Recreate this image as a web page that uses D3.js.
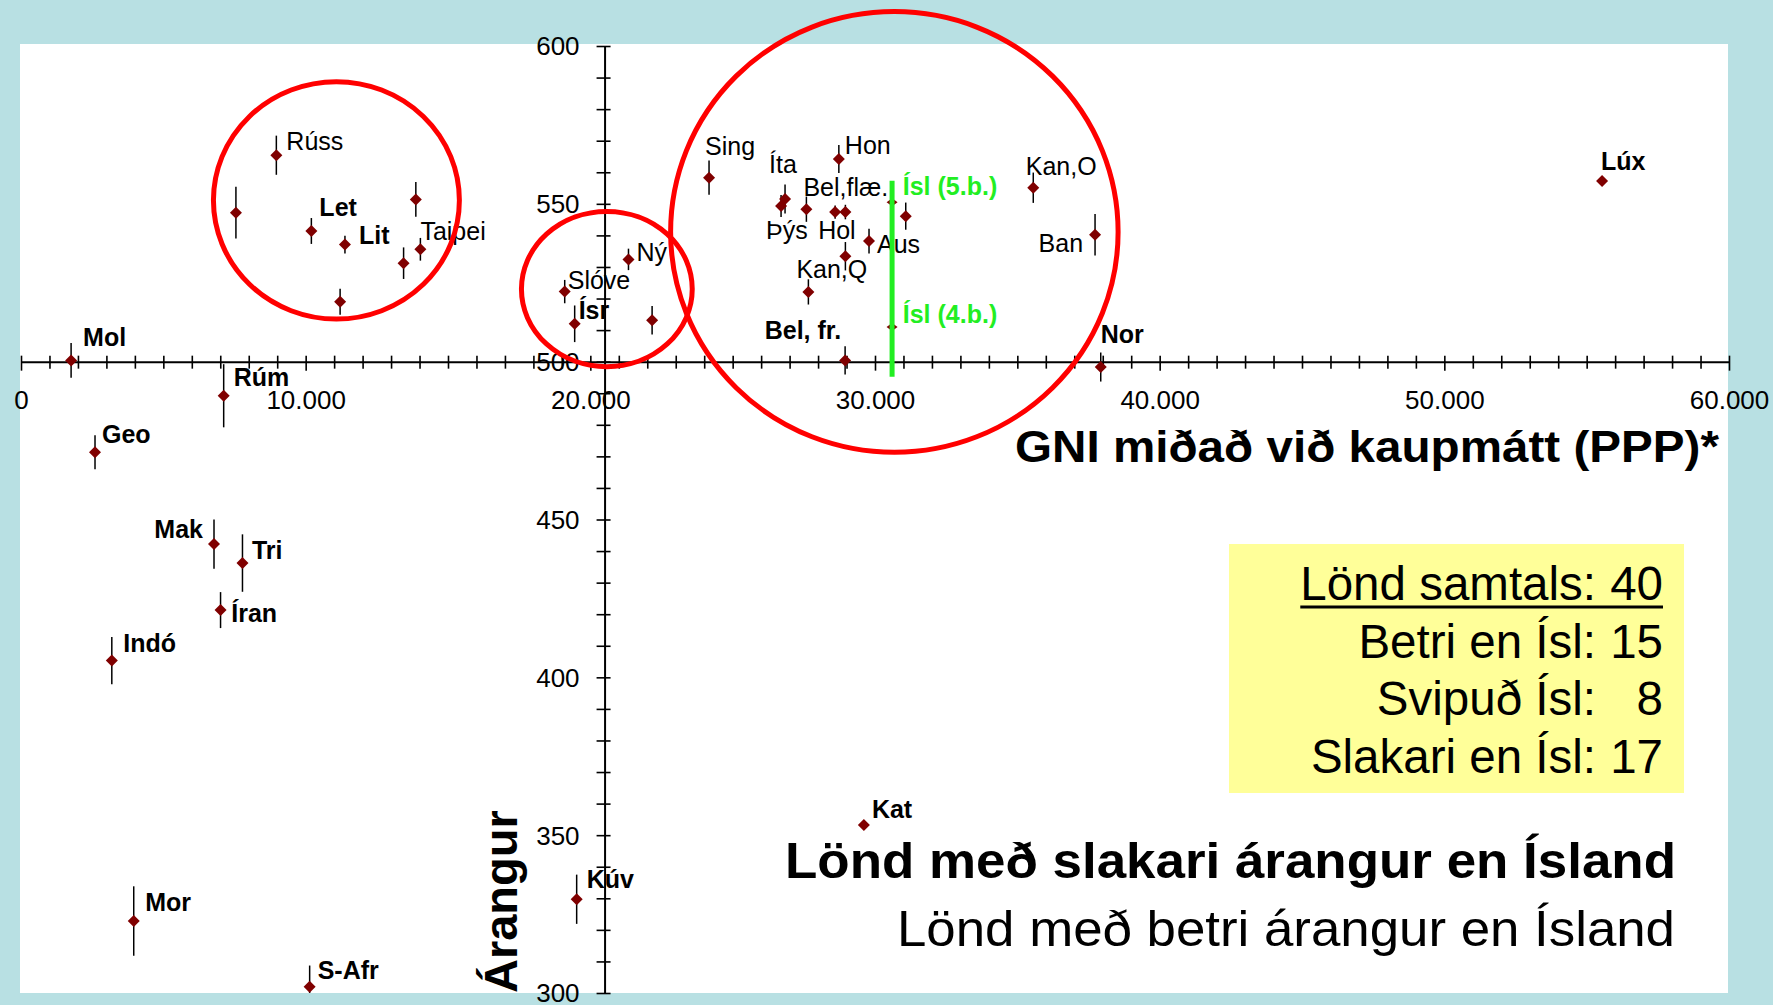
<!DOCTYPE html>
<html>
<head>
<meta charset="utf-8">
<script src="https://cdnjs.cloudflare.com/ajax/libs/d3/7.8.5/d3.min.js"></script>
<style>
  body { margin: 0; background: #b8e0e3; }
  svg { display: block; font-family: "Liberation Sans", Arial, sans-serif; }
</style>
</head>
<body>
<script>
// data: land, GNI (PPP), árangur, skekkja (+/-), hópur (s = slakari en Ísland)
var labels = ["Rúss", "", "Let", "Lit", "", "", "", "Taipei",
  "Mol", "Rúm", "Geo", "Mak", "Tri", "Íran", "Indó", "Mor", "S-Afr", "Kúv", "Kat",
  "Slóve", "Ísr", "Ný", "",
  "Sing", "Íta", "Þýs", "Bel,flæ.", "Hol", "", "Hon", "", "Aus", "", "Kan,Q",
  "Bel, fr.", "Kan,O", "Ban", "Nor", "Lúx"];
var gni = [8970, 7550, 10200, 11380, 11210, 13440, 13870, 14030,
  1760, 7120, 2600, 6780, 7780, 7010, 3190, 3960, 10140, 19520, 29610,
  19100, 19450, 21340, 22170,
  24170, 26840, 26700, 27590, 28600, 28960, 28730, 31080, 29790, 28960, 27660,
  28950, 35560, 37730, 37930, 55540];
var score = [565.4, 547.2, 541.4, 537.1, 519.0, 531.2, 551.4, 535.6,
  500.4, 489.2, 471.3, 442.2, 436.2, 421.3, 405.3, 322.8, 302.0, 329.7, 353.2,
  522.2, 512.0, 532.4, 513.1,
  558.3, 551.5, 549.3, 548.3, 547.4, 547.4, 564.2, 546.1, 538.2, 533.4, 522.1,
  500.4, 555.1, 540.2, 498.3, 557.2];
var err = [6.2, 8.2, 4.1, 2.8, 4.1, 5.0, 5.5, 3.6,
  5.5, 10, 5.4, 7.8, 9.1, 5.7, 7.5, 11, 6.7, 7.8, 0.5,
  3.7, 5.8, 3.4, 4.5,
  5.4, 4.6, 3.5, 4.0, 2.1, 2.3, 4.4, 4.3, 3.9, 4.5, 4.0,
  4.5, 4.8, 6.6, 4.6, 0.5];
var group = ["b", "b", "s", "s", "b", "b", "b", "b",
  "s", "s", "s", "s", "s", "s", "s", "s", "s", "s", "s",
  "b", "s", "b", "b",
  "b", "b", "b", "b", "b", "b", "b", "b", "b", "b", "b",
  "s", "b", "b", "s", "s"];

// Ísland
var islLabels = ["Ísl (5.b.)", "Ísl (4.b.)"];
var islGni = 30600;
var islScore = [550.5, 511.0];
var islRange = [495.2, 557.3];

// samantekt
var statLabels = ["Lönd samtals:", "Betri en Ísl:", "Svipuð Ísl:", "Slakari en Ísl:"];
var statValues = [40, 15, 8, 17];

// tick labels
var xTickValues = [0, 10000, 20000, 30000, 40000, 50000, 60000];
var yTickValues = [300, 350, 400, 450, 500, 550, 600];

// red rings in data units: [cx, cy, rx, ry]
var rings = [[11080, 551.1, 4320, 37.6], [20580, 523.0, 3000, 24.6], [30680, 541.1, 7860, 69.8]];

// label placement [dx, dy, anchor] in px, same order as labels
var labelPos = [[10,-5],[0,0],[8,-15],[14,-1],[0,0],[0,0],[0,0],[0,-9],
  [12,-14],[10,-10],[7,-9],[-11,-6,"end"],[9.5,-3.6],[10.7,12],[11.5,-9],[11.5,-9.6],[8,-8],[10,-11],[8,-7],
  [3,-3],[4,-5],[8,2],[0,0],
  [-4,-23],[-16,-26],[-15,33],[-3,-13],[-17,27],[0,0],[6,-5],[0,0],[8,12],[0,0],[-12,-14],
  [-4,-21,"end"],[-7.5,-13],[-12,17,"end"],[0,-24],[-1,-11]];

var W = 1773, H = 1005;
var svg = d3.select("body").append("svg").attr("width", W).attr("height", H);

svg.append("rect").attr("width", W).attr("height", H).attr("fill", "#b8e0e3");
svg.append("rect").attr("x", 20).attr("y", 44).attr("width", 1708).attr("height", 949).attr("fill", "#fff");

var x = d3.scaleLinear().domain([0, 60000]).range([21, 1729]);
var y = d3.scaleLinear().domain([300, 600]).range([993, 46]);
var xCross = 500, yCross = 20500;

var fmt = d3.formatLocale({decimal: ",", thousands: ".", grouping: [3], currency: ["", ""]}).format(",d");

// x axis
var gx = svg.append("g").attr("transform", "translate(0," + y(xCross) + ")")
  .call(d3.axisBottom(x).tickValues(d3.range(0, 60001, 1000)).tickFormat("").tickSizeOuter(0));
gx.select(".domain").attr("stroke", "#000").attr("stroke-width", 2);
gx.selectAll(".tick line").attr("stroke", "#000").attr("stroke-width", 1.6)
  .attr("y1", -6).attr("y2", function(d) { return d % 10000 === 0 ? 9 : 7; });

var gxl = svg.append("g").attr("transform", "translate(0," + y(xCross) + ")")
  .call(d3.axisBottom(x).tickValues(xTickValues).tickFormat(fmt).tickSize(0));
gxl.select(".domain").remove();
gxl.selectAll("text").attr("y", 47).attr("dy", 0)
  .style("font-family", "Liberation Sans, Arial, sans-serif").style("font-size", "26px").attr("fill", "#000");

// y axis
var gy = svg.append("g").attr("transform", "translate(" + x(yCross) + ",0)")
  .call(d3.axisLeft(y).tickValues(d3.range(300, 601, 10)).tickFormat("").tickSizeOuter(0));
gy.select(".domain").attr("stroke", "#000").attr("stroke-width", 2);
gy.selectAll(".tick line").attr("stroke", "#000").attr("stroke-width", 1.6)
  .attr("x1", 6).attr("x2", -8);

var gyl = svg.append("g").attr("transform", "translate(" + x(yCross) + ",0)")
  .call(d3.axisLeft(y).tickValues(yTickValues).tickSize(0));
gyl.select(".domain").remove();
gyl.selectAll("text").attr("x", -25).attr("dy", "0.34em")
  .style("font-family", "Liberation Sans, Arial, sans-serif").style("font-size", "26px").attr("fill", "#000");

// axis titles
svg.append("text")
  .attr("x", 1719).attr("y", 462).attr("text-anchor", "end")
  .attr("font-weight", "bold").attr("font-size", 44)
  .attr("textLength", 704).attr("lengthAdjust", "spacingAndGlyphs")
  .text("GNI miðað við kaupmátt (PPP)*");

svg.append("text")
  .attr("transform", "translate(517,993) rotate(-90)")
  .attr("font-weight", "bold").attr("font-size", 47)
  .text("Árangur");

// data
var data = labels.map(function(l, i) {
  return {label: l, gni: gni[i], score: score[i], err: err[i], group: group[i], pos: labelPos[i]};
});

var diamond = "M0,-6L6,0L0,6L-6,0Z";

svg.append("g").selectAll("line").data(data).enter().append("line")
  .attr("x1", function(d) { return x(d.gni); })
  .attr("x2", function(d) { return x(d.gni); })
  .attr("y1", function(d) { return y(Math.min(600, d.score + d.err)); })
  .attr("y2", function(d) { return y(Math.max(300, d.score - d.err)); })
  .attr("stroke", "#000").attr("stroke-width", 1.5);

svg.append("g").selectAll("path").data(data).enter().append("path")
  .attr("d", diamond)
  .attr("transform", function(d) { return "translate(" + x(d.gni) + "," + y(d.score) + ")"; })
  .attr("fill", "#800000");

svg.append("g").selectAll("text").data(data.filter(function(d) { return d.label; })).enter().append("text")
  .attr("x", function(d) { return x(d.gni) + d.pos[0]; })
  .attr("y", function(d) { return y(d.score) + d.pos[1]; })
  .attr("text-anchor", function(d) { return d.pos[2] || "start"; })
  .attr("font-size", 25)
  .attr("font-weight", function(d) { return d.group === "s" ? "bold" : "normal"; })
  .text(function(d) { return d.label; });

// Iceland
svg.append("g").selectAll("path").data(islScore).enter().append("path")
  .attr("d", "M0,-4L5.5,0L0,4L-5.5,0Z")
  .attr("transform", function(d) { return "translate(" + x(islGni) + "," + y(d) + ")"; })
  .attr("fill", "#800000");

svg.append("line")
  .attr("x1", x(islGni)).attr("x2", x(islGni))
  .attr("y1", y(islRange[0])).attr("y2", y(islRange[1]))
  .attr("stroke", "#22ee22").attr("stroke-width", 5);

svg.append("g").selectAll("text").data(islScore).enter().append("text")
  .attr("x", x(islGni) + 10.7)
  .attr("y", function(d, i) { return y(d) + (i === 0 ? -7.3 : -4); })
  .attr("font-size", 25).attr("font-weight", "bold").attr("fill", "#22ee22")
  .text(function(d, i) { return islLabels[i]; });

// red rings
svg.append("g").selectAll("ellipse").data(rings).enter().append("ellipse")
  .attr("cx", function(d) { return x(d[0]); })
  .attr("cy", function(d) { return y(d[1]); })
  .attr("rx", function(d) { return x(d[2]) - x(0); })
  .attr("ry", function(d) { return y(600 - d[3]) - y(600); })
  .attr("fill", "none").attr("stroke", "#ff0000").attr("stroke-width", 5);

// legend lines
svg.append("text")
  .attr("x", 1676).attr("y", 878).attr("text-anchor", "end")
  .attr("font-weight", "bold").attr("font-size", 50)
  .attr("textLength", 891).attr("lengthAdjust", "spacingAndGlyphs")
  .text("Lönd með slakari árangur en Ísland");
svg.append("text")
  .attr("x", 1675).attr("y", 946).attr("text-anchor", "end")
  .attr("font-size", 50)
  .attr("textLength", 778).attr("lengthAdjust", "spacingAndGlyphs")
  .text("Lönd með betri árangur en Ísland");

// stats box
var box = svg.append("g");
box.append("rect").attr("x", 1229).attr("y", 544).attr("width", 455).attr("height", 249).attr("fill", "#ffff99");
var rowY = [600, 658, 715, 773];
var lab = box.selectAll(".lab").data(statLabels).enter().append("text")
  .attr("class", "lab")
  .attr("x", 1596).attr("y", function(d, i) { return rowY[i]; })
  .attr("text-anchor", "end").attr("font-size", 47.5)
  .text(function(d) { return d; });
box.selectAll(".val").data(statValues).enter().append("text")
  .attr("class", "val")
  .attr("x", 1663).attr("y", function(d, i) { return rowY[i]; })
  .attr("text-anchor", "end").attr("font-size", 47.5)
  .text(function(d) { return d; });
var first = lab.node().getBBox();
box.append("line")
  .attr("x1", first.x).attr("x2", 1663)
  .attr("y1", rowY[0] + 7).attr("y2", rowY[0] + 7)
  .attr("stroke", "#000").attr("stroke-width", 3);
</script>
</body>
</html>
